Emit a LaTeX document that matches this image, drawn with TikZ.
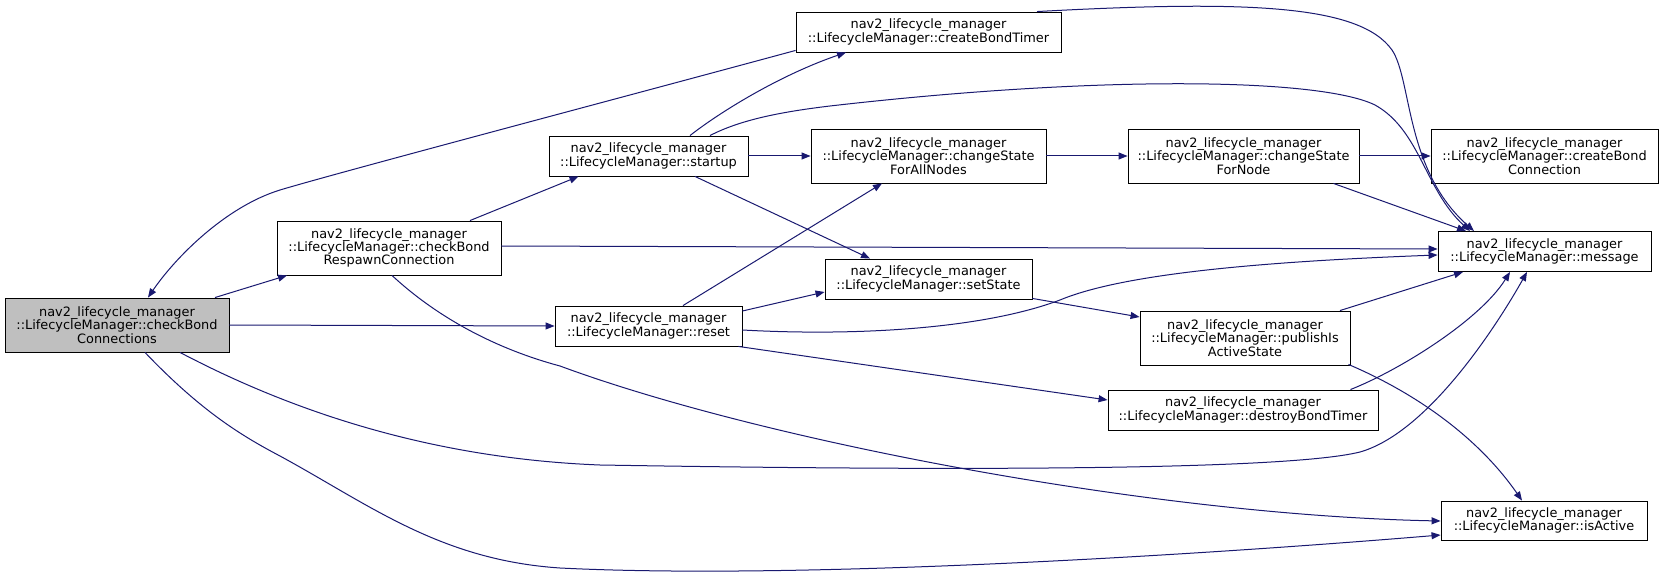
\documentclass[tikz,border=0pt]{standalone}
\usepackage{fontspec}
\setmainfont{DejaVu Sans}
\usetikzlibrary{arrows.meta}
\definecolor{edgeblue}{HTML}{191970}
\definecolor{rootgray}{HTML}{BFBFBF}
\tikzset{
 fn/.style={draw=black, line width=0.9pt, inner sep=0pt, align=center, font=\fontsize{12.9}{13.3}\selectfont, minimum height=40pt},
 fn3/.style={fn, minimum height=54pt},
 call/.style={draw=edgeblue, line width=1pt, -{Triangle[length=9pt,width=7pt]}},
}
\begin{document}
\begin{tikzpicture}[x=1pt,y=-1pt]
\useasboundingbox (0,0) rectangle (1663,577);
\fill[white] (0,0) rectangle (1663,577);
\node[fn3, fill=rootgray, minimum width=224pt] (n1) at (117,325) {nav2\_lifecycle\_manager\\::LifecycleManager::checkBond\\Connections};
\node[fn3, minimum width=224pt] (n2) at (389,248) {nav2\_lifecycle\_manager\\::LifecycleManager::checkBond\\RespawnConnection};
\node[fn, minimum width=199pt] (n3) at (648.5,156) {nav2\_lifecycle\_manager\\::LifecycleManager::startup};
\node[fn, minimum width=187pt] (n4) at (648.5,326) {nav2\_lifecycle\_manager\\::LifecycleManager::reset};
\node[fn, minimum width=265pt] (n5) at (928.5,32) {nav2\_lifecycle\_manager\\::LifecycleManager::createBondTimer};
\node[fn3, minimum width=235pt] (n6) at (928.5,156) {nav2\_lifecycle\_manager\\::LifecycleManager::changeState\\ForAllNodes};
\node[fn, minimum width=207pt] (n7) at (928.5,279) {nav2\_lifecycle\_manager\\::LifecycleManager::setState};
\node[fn, minimum width=270pt] (n8) at (1243,410) {nav2\_lifecycle\_manager\\::LifecycleManager::destroyBondTimer};
\node[fn3, minimum width=231pt] (n9) at (1243.5,156) {nav2\_lifecycle\_manager\\::LifecycleManager::changeState\\ForNode};
\node[fn3, minimum width=210pt] (n10) at (1245,338) {nav2\_lifecycle\_manager\\::LifecycleManager::publishIs\\ActiveState};
\node[fn3, minimum width=227pt] (n11) at (1544.5,156) {nav2\_lifecycle\_manager\\::LifecycleManager::createBond\\Connection};
\node[fn, minimum width=213pt] (n12) at (1544.5,251.5) {nav2\_lifecycle\_manager\\::LifecycleManager::message};
\node[fn, minimum width=206pt, minimum height=39pt] (n13) at (1544,520.5) {nav2\_lifecycle\_manager\\::LifecycleManager::isActive};

% checkBondConnections
\draw[call] ([xshift=98pt]n1.north) -- ([xshift=-102pt]n2.south);
\draw[call] (n1.east) -- (n4.west);
\draw[call] ([xshift=63pt]n1.south) .. controls (280,405) and (420,458) .. (600,465)
  .. controls (900,470) and (1280,472) .. (1360,452)
  .. controls (1430,432) and (1500,320) .. ([xshift=-17.5pt]n12.south);
\draw[call] ([xshift=28pt]n1.south) .. controls (200,410) and (240,435) .. (280,456)
  .. controls (370,505) and (440,560) .. (560,568)
  .. controls (800,580) and (1200,555) .. ([yshift=-14.5pt]n13.west);
% createBondTimer -> checkBondConnections
\draw[call] ([yshift=2pt]n5.south west) .. controls (620,98) and (340,172) .. (280,190)
  .. controls (225,207) and (175,258) .. ([xshift=31pt]n1.north);
% checkBondRespawnConnection
\draw[call] ([xshift=81pt]n2.north) -- ([xshift=-70pt]n3.south);
\draw[call] ([yshift=2pt]n2.east) -- ([yshift=2.5pt]n12.west);
\draw[call] ([xshift=3pt]n2.south) .. controls (440,320) and (500,350) .. (560,366)
  .. controls (760,440) and (1150,515) .. ([yshift=-0.5pt]n13.west);
% startup
\draw[call] ([xshift=41.5pt]n3.north) .. controls (720,112) and (780,75) .. ([xshift=-82.5pt]n5.south);
\draw[call] ([xshift=61.5pt]n3.north) .. controls (740,120) and (780,112) .. (830,106)
  .. controls (1100,75) and (1320,78) .. (1375,105)
  .. controls (1420,130) and (1425,190) .. ([xshift=-74.5pt]n12.north);
\draw[call] (n3.east) -- (n6.west);
\draw[call] ([xshift=46.5pt]n3.south) -- ([xshift=-58.5pt]n7.north);
% reset
\draw[call] ([xshift=34.5pt]n4.north) -- ([xshift=-46.5pt]n6.south);
\draw[call] ([yshift=15pt]n4.east) -- ([yshift=-13pt]n7.west);
\draw[call] ([yshift=-4pt]n4.east) .. controls (850,336) and (980,330) .. (1060,300)
  .. controls (1120,275) and (1250,262) .. ([yshift=-3.5pt]n12.west);
\draw[call] ([xshift=-4pt]n4.south east) -- ([yshift=10pt]n8.west);
% createBondTimer -> message
\draw[call] ([xshift=108.5pt]n5.north) .. controls (1250,0) and (1360,5) .. (1392,50)
  .. controls (1412,80) and (1405,170) .. ([xshift=-70.5pt]n12.north);
% changeState chain
\draw[call] (n6.east) -- (n9.west);
\draw[call] (n9.east) -- (n11.west);
\draw[call] ([xshift=90pt]n9.south) -- ([xshift=-78.5pt]n12.north);
% setState
\draw[call] ([yshift=1pt]n7.south east) -- ([yshift=21pt]n10.west);
% publishIsActiveState
\draw[call] ([xshift=95pt]n10.north) -- ([xshift=-81.5pt]n12.south);
\draw[call] ([xshift=-2pt,yshift=1pt]n10.south east) .. controls (1420,395) and (1480,440) .. ([xshift=-22pt]n13.north);
% destroyBondTimer
\draw[call] ([xshift=-28pt]n8.north east) .. controls (1400,370) and (1480,320) .. ([xshift=-34.5pt]n12.south);
\end{tikzpicture}
\end{document}
